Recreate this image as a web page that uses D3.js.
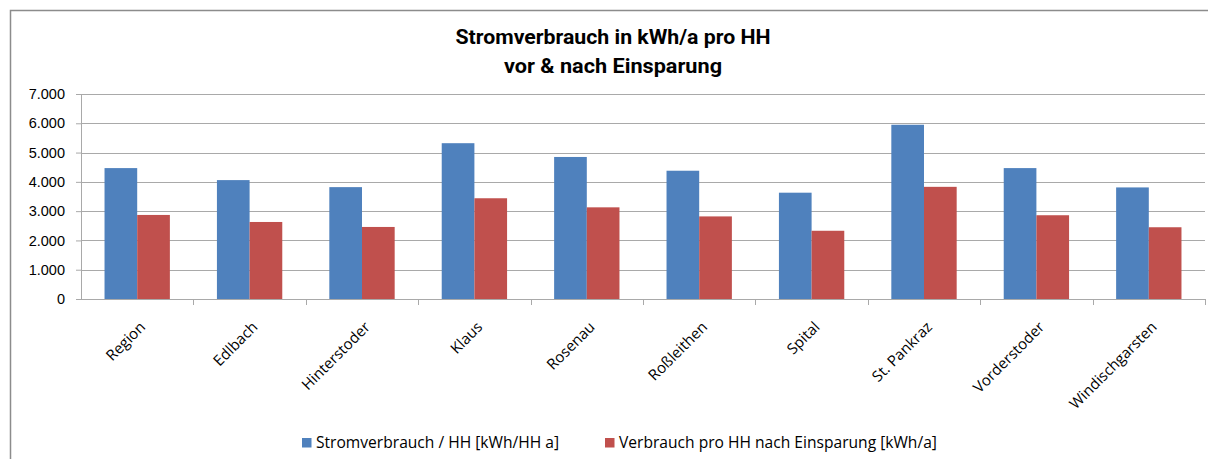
<!DOCTYPE html>
<html>
<head>
<meta charset="utf-8">
<style>
  body { margin: 0; background: #fff; }
  svg { display: block; font-family: "Open Sans", sans-serif; }
</style>
</head>
<body>
<script src="https://cdn.jsdelivr.net/npm/d3@7"></script>
<script>

var categories = ["Region", "Edlbach", "Hinterstoder", "Klaus", "Rosenau",
  "Roßleithen", "Spital", "St. Pankraz", "Vorderstoder", "Windischgarsten"];
var vorher = [4470, 4060, 3820, 5320, 4850, 4380, 3630, 5950, 4470, 3810];
var nachher = [2870, 2630, 2460, 3440, 3130, 2820, 2330, 3830, 2860, 2450];
var seriesNames = ["Stromverbrauch / HH [kWh/HH a]", "Verbrauch pro HH nach Einsparung [kWh/a]"];
var colors = ["#4f81bd", "#c0504d"];
var yTicks = [0, 1000, 2000, 3000, 4000, 5000, 6000, 7000];
var titleLines = ["Stromverbrauch in kWh/a pro HH", "vor & nach Einsparung"];

var W = 1208, H = 459;
var margin = {top: 94, left: 81, right: 3, bottom: 160};

var svg = d3.select("body").append("svg")
    .attr("width", W)
    .attr("height", H);

// chart frame (only left and top edges visible)
svg.append("path")
    .attr("d", "M10.5,459V10.5H1208")
    .attr("fill", "none")
    .attr("stroke", "#8c8c8c")
    .attr("stroke-width", 1.5);

var x = d3.scaleBand()
    .domain(categories)
    .range([margin.left, W - margin.right])
    .paddingInner(0)
    .paddingOuter(0);

var x1 = d3.scaleBand()
    .domain([0, 1])
    .range([0, x.bandwidth()])
    .paddingOuter(0.72)
    .paddingInner(0);

var y = d3.scaleLinear()
    .domain([0, 7000])
    .range([299, 94]);

// title (narrow bold, squeezed to the width of the original)
var titleW = [315, 218];
svg.append("g")
  .selectAll("text")
  .data(titleLines)
  .join("text")
    .attr("x", 613)
    .attr("y", (d, i) => 44 + i * 29)
    .attr("text-anchor", "middle")
    .attr("textLength", (d, i) => titleW[i])
    .attr("lengthAdjust", "spacingAndGlyphs")
    .style("font-family", "Roboto, sans-serif")
    .style("font-weight", "bold")
    .style("font-size", "21px")
    .attr("fill", "#000")
    .text(d => d);

// gridlines
svg.append("g")
  .selectAll("line")
  .data(yTicks.slice(1))
  .join("line")
    .attr("x1", margin.left)
    .attr("x2", W - margin.right)
    .attr("y1", d => Math.round(y(d)) + 0.5)
    .attr("y2", d => Math.round(y(d)) + 0.5)
    .attr("stroke", "#a9a9a9")
    .attr("stroke-width", 1);

// y axis
var yAxis = svg.append("g")
    .attr("transform", "translate(" + margin.left + ",0)")
    .call(d3.axisLeft(y).tickValues(yTicks).tickSize(5).tickPadding(11)
      .tickFormat(d => d3.format(",")(d).replace(/,/g, ".")));
yAxis.select(".domain").attr("stroke", "#a9a9a9");
yAxis.selectAll(".tick line").attr("stroke", "#a9a9a9");
yAxis.selectAll("text")
    .style("font-size", "14.5px")
    .attr("fill", "#000");

// bars
var groups = svg.append("g")
  .selectAll("g")
  .data(categories)
  .join("g")
    .attr("transform", d => "translate(" + x(d) + ",0)");

groups.selectAll("rect")
  .data((d, i) => [vorher[i], nachher[i]])
  .join("rect")
    .attr("x", (d, j) => x1(j))
    .attr("width", x1.bandwidth())
    .attr("y", d => y(d))
    .attr("height", d => y(0) - y(d))
    .attr("fill", (d, j) => colors[j]);

// x axis
var xAxis = svg.append("g")
    .attr("transform", "translate(0," + y(0) + ")");
xAxis.append("line")
    .attr("x1", margin.left)
    .attr("x2", W - margin.right)
    .attr("y1", 0.5)
    .attr("y2", 0.5)
    .attr("stroke", "#a9a9a9");
xAxis.selectAll(".tickmark")
  .data(categories)
  .join("line")
    .attr("class", "tickmark")
    .attr("x1", d => Math.round(x(d) + x.bandwidth()) + 0.5)
    .attr("x2", d => Math.round(x(d) + x.bandwidth()) + 0.5)
    .attr("y1", 0)
    .attr("y2", 6)
    .attr("stroke", "#a9a9a9");
xAxis.selectAll(".lbl")
  .data(categories)
  .join("text")
    .attr("class", "lbl")
    .attr("text-anchor", "end")
    .attr("transform", d => "translate(" + (x(d) + x.bandwidth() / 2 + 9) + ",29) rotate(-45)")
    .style("font-size", "15px")
    .attr("fill", "#000")
    .text(d => d);

// legend
var legendX = [302, 605];
var legend = svg.append("g")
  .selectAll("g")
  .data(seriesNames)
  .join("g")
    .attr("transform", (d, i) => "translate(" + legendX[i] + ",438)");
legend.append("rect")
    .attr("width", 9.5)
    .attr("height", 9.5)
    .attr("fill", (d, i) => colors[i]);
legend.append("text")
    .attr("x", 14)
    .attr("y", 9.5)
    .style("font-size", "15.6px")
    .attr("fill", "#000")
    .text(d => d);

</script>
</body>
</html>
